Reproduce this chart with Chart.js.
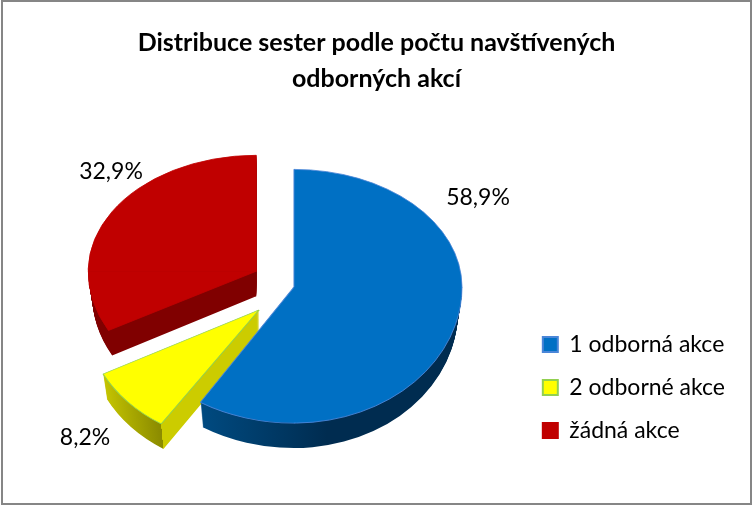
<!DOCTYPE html>
<html>
<head>
<meta charset="utf-8">
<title>Distribuce sester</title>
<script src="https://cdn.jsdelivr.net/npm/chart.js@4/dist/chart.umd.min.js"></script>
<style>
  body { margin: 0; background: #fff; }
  canvas { display: block; }
</style>
</head>
<body>
<canvas id="graf" width="753" height="506"></canvas>
<script>
const kategorie = ['1 odborná akce', '2 odborné akce', 'žádná akce'];
const hodnoty = [58.9, 8.2, 32.9];
const barvy = ['#0070c4', '#ffff00', '#c00000'];
const okraje = ['#4a86d8', '#92d050', '#c00000'];
const vysunuti = [0, 192, 176];
const titulek = ['Distribuce sester podle počtu navštívených', 'odborných akcí'];

// 3D look: where the pie sits, how it is squashed per slice, wall height
const stred = { x: 294, y: 287 };
const hloubka = 25;
const zuzeni = 0.025;
const zplosteni = 0.7;
const meritka = [
  { vlevo: 1.05, vpravo: 1, nahore: 0.70, dole: 0.81, skos: 0 },
  { vlevo: 1.034, vpravo: 1.034, nahore: 0.80, dole: 0.80, skos: -0.05 },
  { vlevo: 1, vpravo: 1, nahore: 0.69, dole: 0.74, skos: 0 }
];
const popiskyPoz = [[478, 198], [85, 438], [111, 172]];

function stena(ctx, arc, i) {
  const R = arc.outerRadius;
  if (i === 0) {
    const g = ctx.createLinearGradient(arc.x - 0.53 * R, 0, arc.x + 0.2 * R, 0);
    g.addColorStop(0, '#004a80');
    g.addColorStop(1, '#002c50');
    return g;
  }
  if (i === 1) {
    const g = ctx.createLinearGradient(arc.x - 0.88 * R, 0, arc.x - 0.53 * R, 0);
    g.addColorStop(0, '#c4c400');
    g.addColorStop(0.995, '#8a8a00');
    g.addColorStop(0.995, '#cccc00');
    g.addColorStop(1, '#cccc00');
    return g;
  }
  return '#800000';
}

function kresli(ctx, arc, i, dy, styl) {
  const m = meritka[i];
  const stredni = (arc.startAngle + arc.endAngle) / 2;
  const posun = arc.options.offset / 4;
  const ax = stred.x + Math.cos(stredni) * posun;
  const ay = stred.y + Math.sin(stredni) * posun * zplosteni + dy;
  const zuz = 1 - zuzeni * dy / hloubka;
  const puvodni = arc.options;
  const jeStena = styl.borderWidth === 0;
  arc.options = Object.assign({}, puvodni, { offset: 0 }, styl);
  const pasy = [[-1000, ay + 0.5 + 1000, m.nahore], [ay, 1000, m.dole]];
  const sloupce = [[-1000, ax + 0.5 + 1000, m.vlevo], [ax, 2000, m.vpravo]];
  pasy.forEach(([top, h, sy]) => {
    sloupce.forEach(([left, w, sx]) => {
      ctx.save();
      ctx.beginPath();
      ctx.rect(left, top, w, h);
      ctx.clip();
      ctx.translate(ax, ay);
      ctx.transform(1, 0, m.skos, 1, 0, 0);
      ctx.scale(sx * zuz, sy);
      ctx.translate(-arc.x, -arc.y);
      if (jeStena) {
        arc.options.backgroundColor = stena(ctx, arc, i);
      }
      arc.draw(ctx);
      ctx.restore();
    });
  });
  arc.options = puvodni;
}

const pie3d = {
  id: 'pie3d',
  beforeDatasetDraw(chart) {
    const ctx = chart.ctx;
    const arcs = chart.getDatasetMeta(0).data;
    [2, 1, 0].forEach(i => {
      for (let dy = hloubka; dy > 0; dy--) {
        kresli(ctx, arcs[i], i, dy, { borderWidth: 0 });
      }
      kresli(ctx, arcs[i], i, 0, {});
    });
    return false;
  },
  afterDraw(chart) {
    const ctx = chart.ctx;
    ctx.save();
    ctx.font = '23px Lato';
    ctx.fillStyle = '#000';
    ctx.textAlign = 'center';
    ctx.textBaseline = 'middle';
    hodnoty.forEach((v, i) => {
      ctx.fillText(v.toFixed(1).replace('.', ',') + '%', popiskyPoz[i][0], popiskyPoz[i][1]);
    });
    // frame round the picture
    ctx.strokeStyle = '#868686';
    ctx.lineWidth = 2;
    ctx.strokeRect(2, 1, 749, 503);
    ctx.restore();
  }
};

new Chart(document.getElementById('graf'), {
  type: 'pie',
  plugins: [pie3d],
  data: {
    labels: kategorie,
    datasets: [{
      data: hodnoty,
      backgroundColor: barvy,
      borderColor: okraje,
      borderWidth: 1,
      offset: vysunuti,
      radius: 168,
      clip: false
    }]
  },
  options: {
    responsive: false,
    animation: false,
    layout: { padding: { left: 18, right: 18, bottom: 44 } },
    plugins: {
      tooltip: { enabled: false },
      title: {
        display: true,
        text: titulek,
        color: '#000',
        font: { family: 'Lato', size: 25, weight: 'bold', lineHeight: 1.44 },
        padding: { top: 25, bottom: 10 }
      },
      legend: {
        position: 'right',
        align: 'end',
        labels: {
          color: '#000',
          font: { family: 'Lato', size: 23 },
          boxWidth: 15,
          boxHeight: 15,
          padding: 20,
          generateLabels(chart) {
            return kategorie.map((t, i) => ({
              text: t,
              fillStyle: barvy[i],
              strokeStyle: okraje[i],
              lineWidth: 2,
              index: i
            }));
          }
        }
      }
    }
  }
});
</script>
</body>
</html>
